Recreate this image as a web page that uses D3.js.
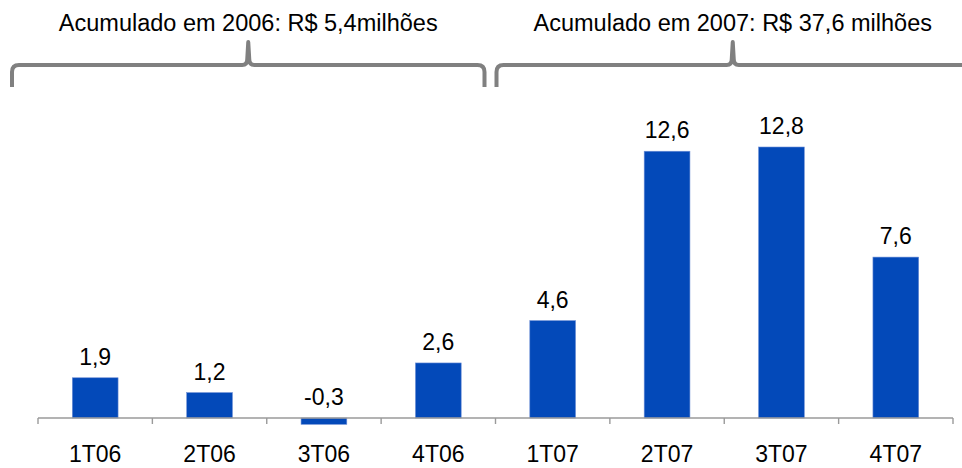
<!DOCTYPE html>
<html>
<head>
<meta charset="utf-8">
<script src="https://cdn.jsdelivr.net/npm/d3@7"></script>
<style>
  body { margin: 0; background: #fff; }
  svg { display: block; font-family: "Liberation Sans", Arial, sans-serif; }
</style>
</head>
<body>
<div id="chart"></div>
<script>
// data
const categories = ['1T06', '2T06', '3T06', '4T06', '1T07', '2T07', '3T07', '4T07'];
const values = [1.9, 1.2, -0.3, 2.6, 4.6, 12.6, 12.8, 7.6];
const groupLabels = ['Acumulado em 2006: R$ 5,4milhões', 'Acumulado em 2007: R$ 37,6 milhões'];
const groupStart = [0, 4];
const groupEnd = [3, 7];

const width = 962;
const height = 468;
const axisLeft = 38;
const axisRight = 953;
const zeroY = 418;
const topY = 147;

const svg = d3.select('#chart').append('svg')
  .attr('width', width)
  .attr('height', height);

const x = d3.scaleBand()
  .domain(categories)
  .range([axisLeft, axisRight])
  .paddingInner(0.6)
  .paddingOuter(0.3);

const y = d3.scaleLinear()
  .domain([0, d3.max(values)])
  .range([zeroY, topY]);

const step = x.step();
const edge = (i) => axisLeft + i * step;

// bars
const data = categories.map((c, i) => ({ code: c, value: values[i] }));

svg.append('g').attr('class', 'bars')
  .selectAll('rect')
  .data(data)
  .enter().append('rect')
  .attr('x', (d) => x(d.code))
  .attr('y', (d) => Math.min(y(d.value), y(0)))
  .attr('width', x.bandwidth())
  .attr('height', (d) => Math.abs(y(d.value) - y(0)))
  .attr('fill', '#0349b9')
  .attr('stroke', '#6e8fd6')
  .attr('stroke-width', 0.6);

// value labels (plain hyphen for negatives, comma decimal)
svg.append('g').attr('class', 'labels')
  .selectAll('text')
  .data(data)
  .enter().append('text')
  .attr('x', (d) => x(d.code) + x.bandwidth() / 2)
  .attr('y', (d) => Math.min(y(d.value), y(0)) - 13)
  .attr('text-anchor', 'middle')
  .attr('font-size', '23px')
  .attr('fill', '#000')
  .text((d) => d.value.toFixed(1).replace('.', ','));

// x axis, ticks sit on band edges
const xAxis = d3.axisBottom(x).tickSize(0).tickPadding(28);
const axisG = svg.append('g')
  .attr('class', 'x axis')
  .attr('transform', `translate(0,${zeroY})`)
  .call(xAxis);
axisG.select('.domain').remove();
axisG.selectAll('text')
  .attr('font-size', '23px')
  .attr('font-family', '"Liberation Sans", Arial, sans-serif')
  .attr('fill', '#000');

axisG.append('line')
  .attr('x1', axisLeft).attr('x2', axisRight)
  .attr('y1', 0).attr('y2', 0)
  .attr('stroke', '#9a9a9a')
  .attr('stroke-width', 1.4);

axisG.selectAll('line.edge')
  .data(d3.range(categories.length + 1))
  .enter().append('line')
  .attr('class', 'edge')
  .attr('x1', (i) => edge(i)).attr('x2', (i) => edge(i))
  .attr('y1', 0).attr('y2', 6)
  .attr('stroke', '#9a9a9a')
  .attr('stroke-width', 1.4);

// curly braces above each year
const braceY = 65;
const braceFoot = 87;
const bracePeak = 42;
const braceOffsets = [[-26, -11], [1, 16]];

function bracePath(x0, x1) {
  const m = (x0 + x1) / 2;
  const r = 7;
  return `M${x0},${braceFoot} L${x0},${braceY + r} Q${x0},${braceY} ${x0 + r},${braceY}` +
    ` L${m - 6},${braceY} Q${m - 1},${braceY} ${m - 1},${braceY - 6} L${m},${bracePeak}` +
    ` L${m + 1},${braceY - 6} Q${m + 1},${braceY} ${m + 6},${braceY}` +
    ` L${x1 - r},${braceY} Q${x1},${braceY} ${x1},${braceY + r} L${x1},${braceFoot}`;
}

groupLabels.forEach((label, g) => {
  const x0 = edge(groupStart[g]) + braceOffsets[g][0];
  const x1 = edge(groupEnd[g] + 1) + braceOffsets[g][1];
  svg.append('path')
    .attr('d', bracePath(x0, x1))
    .attr('fill', 'none')
    .attr('stroke', '#808080')
    .attr('stroke-width', 4)
    .attr('stroke-linejoin', 'round');

  svg.append('text')
    .attr('x', (x0 + x1) / 2)
    .attr('y', 31)
    .attr('text-anchor', 'middle')
    .attr('font-size', '23.5px')
    .attr('fill', '#000')
    .text(label);
});
</script>
</body>
</html>
